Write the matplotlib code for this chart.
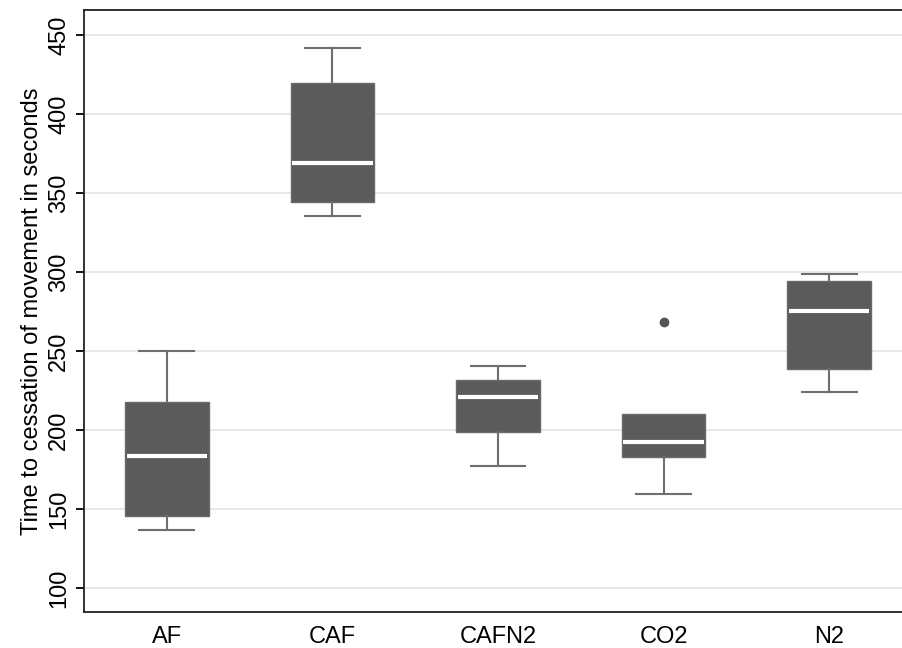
import matplotlib
matplotlib.use("Agg")
import matplotlib.pyplot as plt

plt.rcParams['font.family'] = ['Liberation Sans', 'DejaVu Sans']

categories = ["AF", "CAF", "CAFN2", "CO2", "N2"]
whislo = [136.7, 335.4, 177.2, 159.5, 224.0]
q1 = [145.6, 344.3, 198.7, 182.9, 238.6]
med = [183.5, 369.0, 220.9, 192.4, 275.3]
q3 = [217.7, 419.6, 231.6, 210.1, 294.3]
whishi = [250.0, 441.8, 240.5, 210.1, 298.7]
outliers = [[], [], [], [268.4], []]
yticks = [100, 150, 200, 250, 300, 350, 400, 450]

stats = []
for i, c in enumerate(categories):
    stats.append(dict(label=c, whislo=whislo[i], q1=q1[i], med=med[i],
                      q3=q3[i], whishi=whishi[i], fliers=outliers[i]))

fig = plt.figure(figsize=(9.03, 6.48), dpi=100)
W, H = 903, 648
ax = fig.add_axes([84 / W, (H - 612) / H, (912 - 84) / W, (612 - 10) / H])

box_c = '#5b5b5b'
line_c = '#6e6e6e'
res = ax.bxp(stats, positions=range(1, 6), widths=0.506, patch_artist=True,
             boxprops=dict(facecolor=box_c, edgecolor='#6a6a6a', linewidth=1),
             medianprops=dict(color='white', linewidth=3),
             whiskerprops=dict(color=line_c, linewidth=1.5),
             capprops=dict(color=line_c, linewidth=1.5),
             capwidths=0.33,
             flierprops=dict(marker='o', markerfacecolor='#555555',
                             markeredgecolor='#555555', markersize=6))
# hide caps where whisker length is zero
for i in range(len(categories)):
    if whishi[i] <= q3[i]:
        res['caps'][2 * i + 1].set_visible(False)
        res['whiskers'][2 * i + 1].set_visible(False)
    if whislo[i] >= q1[i]:
        res['caps'][2 * i].set_visible(False)
        res['whiskers'][2 * i].set_visible(False)
for m in res['medians']:
    x0, x1 = m.get_xdata()
    m.set_xdata([x0 + 0.01, x1 - 0.01])

ax.set_xlim(0.5, 5.5)
ax.set_ylim(84.8, 465.8)
ax.set_yticks(yticks)
ax.set_yticklabels([str(t) for t in yticks], rotation=90, va='center',
                   fontsize=17)
ax.set_xticks(range(1, 6))
ax.set_xticklabels(categories, fontsize=17)
ax.tick_params(axis='x', length=0, pad=10)
ax.tick_params(axis='y', length=6, width=1.3, pad=4)
ax.yaxis.grid(True, color='#e3e3e3', linewidth=1.2)
ax.set_axisbelow(True)
for s in ['left', 'bottom', 'top']:
    ax.spines[s].set_linewidth(1.3)
    ax.spines[s].set_color('#222222')
ax.spines['right'].set_visible(False)
ax.set_ylabel("Time to cessation of movement in seconds", fontsize=17,
              labelpad=4)

fig.savefig("out.png", dpi=100)
